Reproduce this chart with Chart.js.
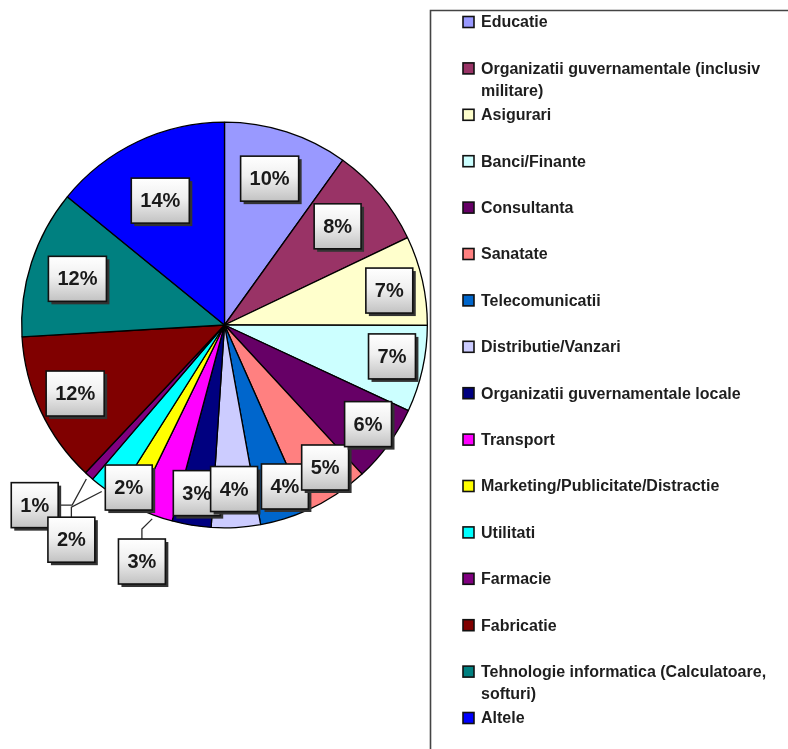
<!DOCTYPE html>
<html>
<head>
<meta charset="utf-8">
<script src="https://cdn.jsdelivr.net/npm/chart.js@4.4.1/dist/chart.umd.min.js"></script>
<style>
html,body{margin:0;padding:0;background:#fff;}
#wrap{position:relative;width:788px;height:749px;}
</style>
</head>
<body>
<div id="wrap"><canvas id="c" width="788" height="749"></canvas></div>
<script>
// ---- data ----
const categories = [
  "Educatie",
  "Organizatii guvernamentale (inclusiv militare)",
  "Asigurari",
  "Banci/Finante",
  "Consultanta",
  "Sanatate",
  "Telecomunicatii",
  "Distributie/Vanzari",
  "Organizatii guvernamentale locale",
  "Transport",
  "Marketing/Publicitate/Distractie",
  "Utilitati",
  "Farmacie",
  "Fabricatie",
  "Tehnologie informatica (Calculatoare, softuri)",
  "Altele"
];
const shares = [9.9, 8.0, 7.1, 6.9, 6.2, 5.2, 3.8, 3.9, 3.1, 3.05, 1.75, 2.3, 0.75, 12.05, 11.8, 14.1];

// ---- styles ----
const sliceColors = [
  "#9999FF", "#993366", "#FFFFCC", "#CCFFFF", "#660066", "#FF8080",
  "#0066CC", "#CCCCFF", "#000080", "#FF00FF", "#FFFF00", "#00FFFF",
  "#800080", "#800000", "#008080", "#0000FF"
];
// label placement: radial factor k (of radius), angular nudge (degrees), optional leader style
const labelPlacement = [
  {k:0.755, da:-0.7}, {k:0.74, da:-1.2}, {k:0.83, da:0.9}, {k:0.84, da:-1.9},
  {k:0.86, da:-1.5}, {k:0.86, da:-1.9}, {k:0.85, da:-3.4}, {k:0.81, da:-0.1},
  {k:0.84, da:0}, {k:1.235, da:-1.2, leader:'top'}, {k:0.93, da:1.4},
  {k:1.30, da:-0.9, leader:'top'}, {k:1.29, da:4.6, leader:'side'},
  {k:0.81, da:0.4}, {k:0.76, da:-0.5}, {k:0.69, da:-1.9}
];

const FONT = '"Liberation Sans", Arial, sans-serif';

const pctLabels = {
  id: 'pctLabels',
  afterDatasetsDraw(chart) {
    const ctx = chart.ctx;
    const meta = chart.getDatasetMeta(0);
    const data = chart.data.datasets[0].data;
    const total = data.reduce((a, b) => a + b, 0);
    ctx.save();
    ctx.font = 'bold 20px ' + FONT;
    const boxes = meta.data.map((arc, i) => {
      const p = arc.getProps(['x', 'y', 'startAngle', 'endAngle', 'outerRadius'], true);
      const lp = labelPlacement[i];
      const mid = (p.startAngle + p.endAngle) / 2;
      const a = mid + lp.da * Math.PI / 180;
      const cx = p.x + Math.cos(a) * p.outerRadius * lp.k;
      const cy = p.y + Math.sin(a) * p.outerRadius * lp.k;
      const text = Math.round(data[i] / total * 100) + '%';
      const w = ctx.measureText(text).width + 18;
      const h = 45;
      return {i, p, mid, cx, cy, w, h, text, lp};
    });
    // leaders
    ctx.strokeStyle = '#2a2a2a';
    ctx.lineWidth = 1.3;
    boxes.forEach(b => {
      if (!b.lp.leader) return;
      const r = b.p.outerRadius * 1.02;
      const sx = b.p.x + Math.cos(b.mid) * r;
      const sy = b.p.y + Math.sin(b.mid) * r;
      ctx.beginPath();
      ctx.moveTo(sx, sy);
      if (b.lp.leader === 'top') {
        const top = b.cy - b.h / 2;
        ctx.lineTo(b.cx, top - 10);
        ctx.lineTo(b.cx, top);
      } else {
        const right = b.cx + b.w / 2;
        ctx.lineTo(right + 14, b.cy);
        ctx.lineTo(right, b.cy);
      }
      ctx.stroke();
    });
    // boxes (reverse order so earlier labels sit on top)
    for (let j = boxes.length - 1; j >= 0; j--) {
      const b = boxes[j];
      const x0 = b.cx - b.w / 2, y0 = b.cy - b.h / 2;
      ctx.fillStyle = '#333';
      ctx.fillRect(x0 + 3, y0 + 3, b.w, b.h);
      const g = ctx.createLinearGradient(0, y0, 0, y0 + b.h);
      g.addColorStop(0, '#ffffff');
      g.addColorStop(0.45, '#f0f0f0');
      g.addColorStop(1, '#c2c2c2');
      ctx.fillStyle = g;
      ctx.fillRect(x0, y0, b.w, b.h);
      ctx.strokeStyle = '#111';
      ctx.lineWidth = 1.6;
      ctx.strokeRect(x0, y0, b.w, b.h);
      ctx.fillStyle = '#1a1a1a';
      ctx.textAlign = 'center';
      ctx.textBaseline = 'middle';
      ctx.fillText(b.text, b.cx, b.cy + 1);
    }
    ctx.restore();
  }
};

const sideLegend = {
  id: 'sideLegend',
  afterDraw(chart) {
    const ctx = chart.ctx;
    ctx.save();
    // frame
    ctx.strokeStyle = '#444';
    ctx.lineWidth = 1.6;
    ctx.beginPath();
    ctx.moveTo(430.5, 760);
    ctx.lineTo(430.5, 10.5);
    ctx.lineTo(800, 10.5);
    ctx.stroke();
    ctx.font = 'bold 16px ' + FONT;
    ctx.textBaseline = 'middle';
    ctx.textAlign = 'left';
    const x0 = 463, tx = 481, maxW = 300, step = 46.4, lineH = 22;
    chart.data.labels.forEach((lab, i) => {
      const y = 22 + i * step;
      // wrap
      const words = lab.split(' ');
      const lines = [];
      let cur = '';
      words.forEach(w => {
        const t = cur ? cur + ' ' + w : w;
        if (ctx.measureText(t).width > maxW && cur) { lines.push(cur); cur = w; }
        else cur = t;
      });
      if (cur) lines.push(cur);
      ctx.fillStyle = sliceColors[i];
      ctx.fillRect(x0, y - 5.5, 11, 11);
      ctx.strokeStyle = '#111';
      ctx.lineWidth = 1.6;
      ctx.strokeRect(x0, y - 5.5, 11, 11);
      ctx.fillStyle = '#1e1e1e';
      lines.forEach((ln, k) => ctx.fillText(ln, tx, y + 1 + k * lineH));
    });
    ctx.restore();
  }
};

new Chart(document.getElementById('c'), {
  type: 'pie',
  data: {
    labels: categories,
    datasets: [{
      data: shares,
      backgroundColor: sliceColors,
      borderColor: '#000',
      borderWidth: 1.3
    }]
  },
  options: {
    responsive: false,
    animation: false,
    layout: { padding: { left: 21, top: 121.5, right: 360, bottom: 220.5 } },
    plugins: { legend: { display: false }, tooltip: { enabled: false } }
  },
  plugins: [pctLabels, sideLegend]
});
</script>
</body>
</html>
